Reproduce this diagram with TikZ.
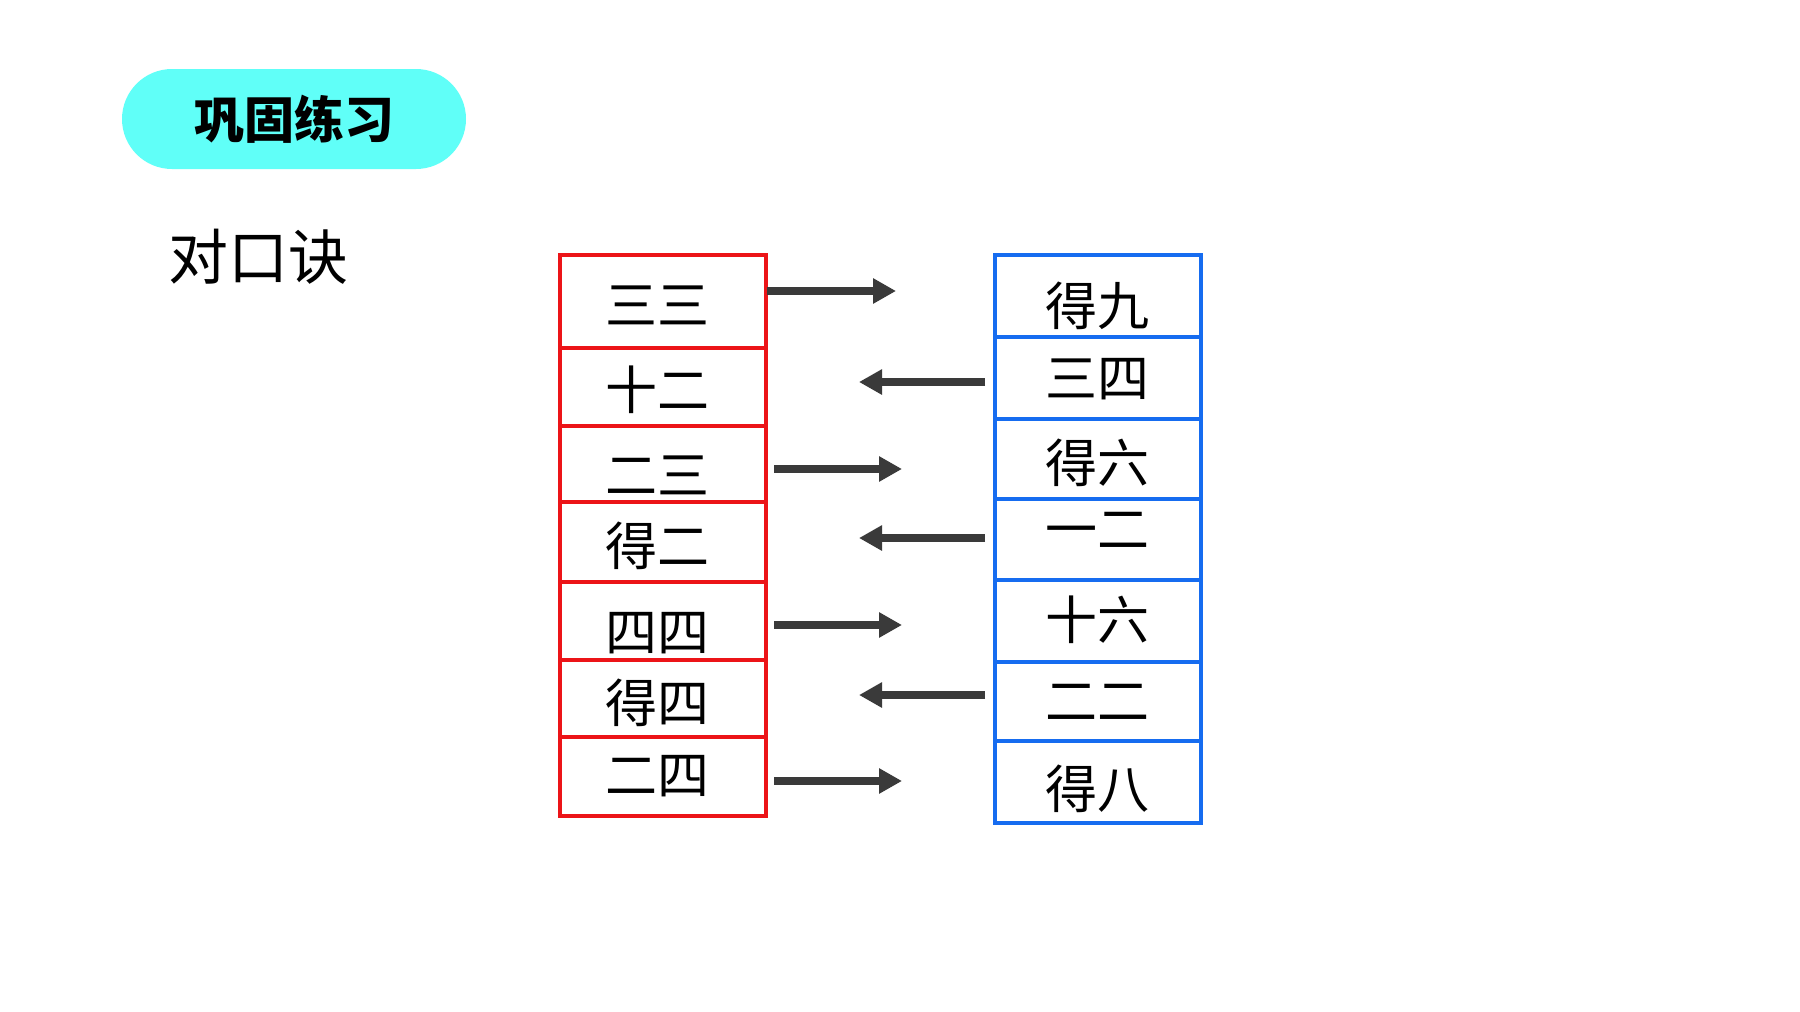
\documentclass[tikz,border=0pt]{standalone}
\usepackage{fontspec}
\newfontfamily\cjk{Noto Sans CJK SC}
\usetikzlibrary{arrows.meta}
\definecolor{cellred}{RGB}{236,20,24}
\definecolor{cellblue}{RGB}{22,108,240}
\definecolor{pillcyan}{RGB}{96,255,248}
\definecolor{arrowgray}{RGB}{58,58,58}
\tikzset{
  redcell/.style={draw=cellred, line width=1.7pt, minimum width=103pt, inner sep=0pt},
  bluecell/.style={draw=cellblue, line width=1.7pt, minimum width=103pt, inner sep=0pt},
  celltext/.style={font=\cjk\fontsize{26}{26}\selectfont, inner sep=0pt},
  pill/.style={fill=pillcyan, rounded corners=25pt, minimum width=172pt, minimum height=50pt, inner sep=0pt, font=\cjk\bfseries\fontsize{25}{25}\selectfont},
  heading/.style={font=\cjk\fontsize{30}{30}\selectfont, inner sep=0pt},
  pointer/.style={draw=arrowgray, line width=3.6pt, -{Triangle[length=11.5pt, width=12pt]}},
}
\begin{document}
\begin{tikzpicture}[x=0.5pt, y=-0.5pt]
\useasboundingbox[fill=white] (0,0) rectangle (1800,1012);
% title pill
\node[pill] (title) at (294,119) {巩固练习};
\node[heading] (head) at (258,257) {对口诀};
% red cells
\node[redcell, minimum height=46.5pt] (r1) at (663,301.5) {};
\node[redcell, minimum height=39pt]   (r2) at (663,387)   {};
\node[redcell, minimum height=38pt]   (r3) at (663,464)   {};
\node[redcell, minimum height=40pt]   (r4) at (663,542)   {};
\node[redcell, minimum height=39pt]   (r5) at (663,621)   {};
\node[redcell, minimum height=38.5pt] (r6) at (663,698.5) {};
\node[redcell, minimum height=39.5pt] (r7) at (663,776.5) {};
\node[celltext] (rt1) at (657,305) {三三};
\node[celltext] (rt2) at (657,390) {十二};
\node[celltext] (rt3) at (657,475) {二三};
\node[celltext] (rt4) at (657,546) {得二};
\node[celltext] (rt5) at (657,633) {四四};
\node[celltext] (rt6) at (657,703) {得四};
\node[celltext] (rt7) at (657,776) {二四};
% blue cells
\node[bluecell, minimum height=41pt]   (b1) at (1098,296)   {};
\node[bluecell, minimum height=41pt]   (b2) at (1098,378)   {};
\node[bluecell, minimum height=40pt]   (b3) at (1098,459)   {};
\node[bluecell, minimum height=40.5pt] (b4) at (1098,539.5) {};
\node[bluecell, minimum height=41pt]   (b5) at (1098,621)   {};
\node[bluecell, minimum height=39.5pt] (b6) at (1098,701.5) {};
\node[bluecell, minimum height=41pt]   (b7) at (1098,782)   {};
\node[celltext] (bt1) at (1097,306) {得九};
\node[celltext] (bt2) at (1097,379) {三四};
\node[celltext] (bt3) at (1097,463) {得六};
\node[celltext] (bt4) at (1097,530) {一二};
\node[celltext] (bt5) at (1097,620) {十六};
\node[celltext] (bt6) at (1097,702) {二二};
\node[celltext] (bt7) at (1097,789) {得八};
% arrow ends
\coordinate (a1s) at (767,291); \coordinate (a1e) at (896,291);
\coordinate (a2s) at (985,382); \coordinate (a2e) at (859,382);
\coordinate (a3s) at (774,469); \coordinate (a3e) at (902,469);
\coordinate (a4s) at (985,538); \coordinate (a4e) at (859,538);
\coordinate (a5s) at (774,625); \coordinate (a5e) at (902,625);
\coordinate (a6s) at (985,695); \coordinate (a6e) at (859,695);
\coordinate (a7s) at (774,781); \coordinate (a7e) at (902,781);
\draw[pointer] (a1s) -- (a1e);
\draw[pointer] (a2s) -- (a2e);
\draw[pointer] (a3s) -- (a3e);
\draw[pointer] (a4s) -- (a4e);
\draw[pointer] (a5s) -- (a5e);
\draw[pointer] (a6s) -- (a6e);
\draw[pointer] (a7s) -- (a7e);
\end{tikzpicture}
\end{document}
